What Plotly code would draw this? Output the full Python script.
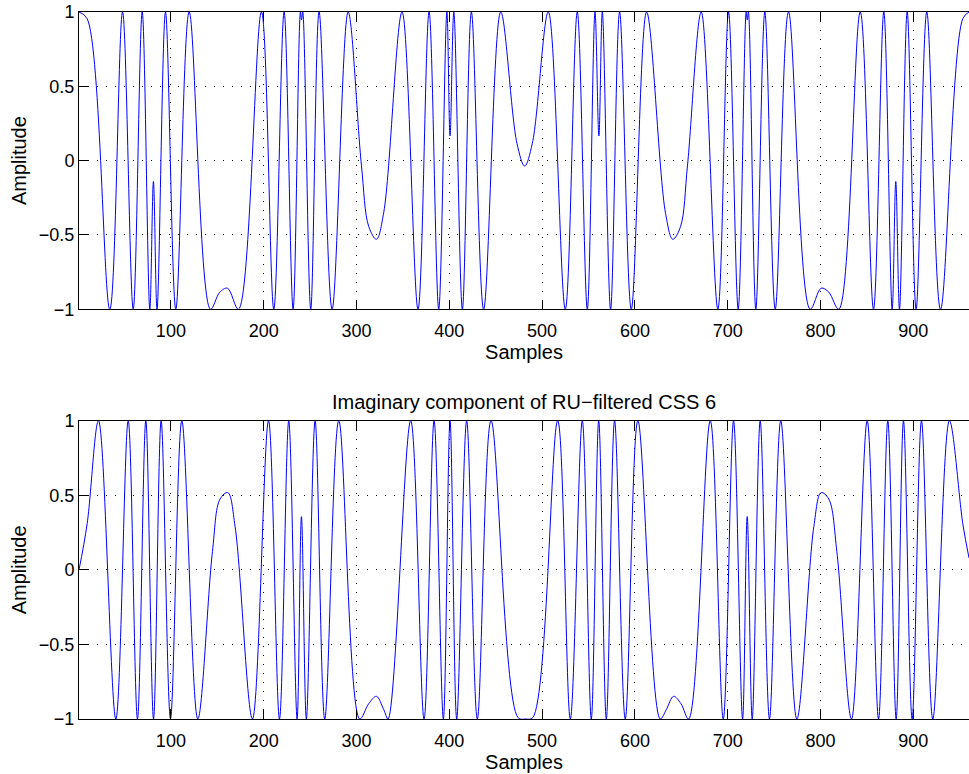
import plotly.graph_objects as go

# ---- data (extrema / kink points of each component) ----
real_x = [1, 9.8, 34.2, 47.9, 59.4, 69.1, 77.3, 81.2, 85.1, 94.2, 105.3, 119.7, 142.7,
          152.7, 161.0, 172.8, 197.6, 210.9, 222.0, 231.7, 239.6, 240.8, 242.1, 250.7,
          259.7, 273.7, 291.0, 305.3, 313.2, 321.5, 329.4, 349.1, 366.3, 378.2, 388.6,
          397.4, 400.8, 404.9, 414.1, 423.8, 437.0, 455.4, 472.9, 481.2, 489.5, 506.7,
          525.0, 537.9, 548.7, 557.0, 561.2, 564.9, 573.8, 583.5, 596.1, 612.6, 633.0,
          640.9, 649.2, 656.7, 671.5, 689.4, 700.9, 711.3, 719.9, 721.0, 722.3, 730.3,
          740.0, 751.2, 765.5, 788.9, 800.7, 808.9, 819.7, 842.8, 857.1, 868.2, 877.2,
          881.1, 885.1, 893.4, 903.0, 914.5, 929.3, 953.3, 960]
real_y = [1, 0.955, -1, 1, -1, 1, -1, -0.14, -1, 1, -1, 1, -1,
          -0.885, -0.858, -1, 1, -1, 1, -1, 1, 0.946, 1, -1,
          1, -1, 1, -0.03, -0.443, -0.529, -0.347, 1, -1, 1, -1,
          1, 0.166, 1, -1, 1, -1, 1, 0.117, -0.036, 0.117, 1,
          -1, 1, -1, 1, 0.166, 1, -1, 1, -1, 1, -0.354,
          -0.529, -0.443, -0.03, 1, -1, 1, -1, 1, 0.946, 1, -1,
          1, -1, 1, -1, -0.858, -0.885, -1, 1, -1, 1, -1,
          -0.14, -1, 1, -1, 1, -1, 0.955, 1]

imag_x = [1, 9.8, 22.0, 40.7, 54.0, 64.0, 73.0, 81.3, 89.5, 99.6, 111.8, 129.0, 144.8,
          153.0, 161.3, 169.2, 187.9, 205.2, 217.0, 227.0, 236.0, 240.7, 246.0, 255.4,
          265.8, 280.9, 303.5, 313.2, 321.5, 329.4, 334.0, 358.4, 372.8, 383.6, 393.6,
          400.8, 408.0, 418.7, 430.2, 445.0, 474.0, 482.0, 490.0, 516.8, 530.4, 543.3,
          553.0, 561.0, 569.2, 578.1, 589.6, 603.2, 627.3, 633.8, 641.7, 649.6, 657.9,
          681.2, 695.2, 706.3, 716.0, 721.0, 726.4, 735.0, 745.0, 757.2, 774.5, 792.8,
          800.7, 808.9, 817.6, 833.4, 850.3, 862.5, 872.5, 881.5, 889.4, 898.7, 908.8,
          921.0, 938.9, 953.3, 960]
imag_y = [0, 0.31, 1, -1, 1, -1, 1, -1, 1, -1, 1, -1, 0.123,
          0.475, 0.518, 0.29, -1, 1, -1, 1, -1, 0.357, -1, 1,
          -1, 1, -1, -0.897, -0.848, -0.9375, -1, 1, -1, 1, -1,
          1, -1, 1, -1, 1, -0.99, -1, -0.99, 1, -1, 1,
          -1, 1, -1, 1, -1, 1, -1, -0.9375, -0.848, -0.897, -1,
          1, -1, 1, -1, 0.357, -1, 1, -1, 1, -1, 0.29,
          0.518, 0.475, 0.123, -1, 1, -1, 1, -1, 1, -1, 1,
          -1, 1, 0.31, 0.08]

x_ticks = [100, 200, 300, 400, 500, 600, 700, 800, 900]
y_ticks = [-1, -0.5, 0, 0.5, 1]
y_tick_labels = ["\u22121", "\u22120.5", "0", "0.5", "1"]
x_title = "Samples"
y_title = "Amplitude"
bottom_title = "Imaginary component of RU\u2212filtered CSS 6"

FONT = "Liberation Sans, Arial, Helvetica, sans-serif"

fig = go.Figure()
fig.add_trace(go.Scatter(x=real_x, y=real_y, mode="lines",
                         line=dict(color="#0000ff", width=1, shape="spline", smoothing=1),
                         xaxis="x", yaxis="y", showlegend=False, hoverinfo="skip"))
fig.add_trace(go.Scatter(x=imag_x, y=imag_y, mode="lines",
                         line=dict(color="#0000ff", width=1, shape="spline", smoothing=1),
                         xaxis="x2", yaxis="y2", showlegend=False, hoverinfo="skip"))

def xax(anchor):
    return dict(range=[1, 960], domain=[0, 1], anchor=anchor,
                tickmode="array", tickvals=x_ticks, ticktext=[str(v) for v in x_ticks],
                ticks="inside", ticklen=9, tickwidth=1, tickcolor="black",
                showline=True, linecolor="black", linewidth=1, mirror="ticks",
                showgrid=True, gridcolor="black", gridwidth=1, griddash="1px,8px",
                zeroline=False, ticklabelstandoff=5,
                tickfont=dict(family=FONT, size=18, color="black"),
                title=dict(text=x_title, font=dict(family=FONT, size=20, color="black"), standoff=3))

def yax(anchor, dom):
    return dict(range=[-1, 1], domain=dom, anchor=anchor,
                tickmode="array", tickvals=y_ticks, ticktext=y_tick_labels,
                ticks="inside", ticklen=9, tickwidth=1, tickcolor="black",
                showline=True, linecolor="black", linewidth=1, mirror=False,
                showgrid=True, gridcolor="black", gridwidth=1, griddash="1px,8px",
                zeroline=False, tickfont=dict(family=FONT, size=18, color="black"),
                title=dict(text=y_title, font=dict(family=FONT, size=20, color="black"), standoff=6))

fig.update_layout(
    width=969, height=774,
    margin=dict(l=79, r=0, t=12, b=55),
    paper_bgcolor="white", plot_bgcolor="white",
    font=dict(family=FONT, color="black"),
    xaxis=xax("y"), yaxis=yax("x", [0.5795, 1.0]),
    xaxis2=xax("y2"), yaxis2=yax("x2", [0.0, 0.4219]),
    annotations=[dict(text=bottom_title, xref="x2 domain", yref="y2 domain",
                      x=0.5, y=1.0, xanchor="center", yanchor="bottom", yshift=6,
                      showarrow=False, font=dict(family=FONT, size=20, color="black"))],
)

fig.write_html("out.html", config={"displayModeBar": False},
               post_script="document.body.style.margin='0';document.body.style.overflow='hidden';")
